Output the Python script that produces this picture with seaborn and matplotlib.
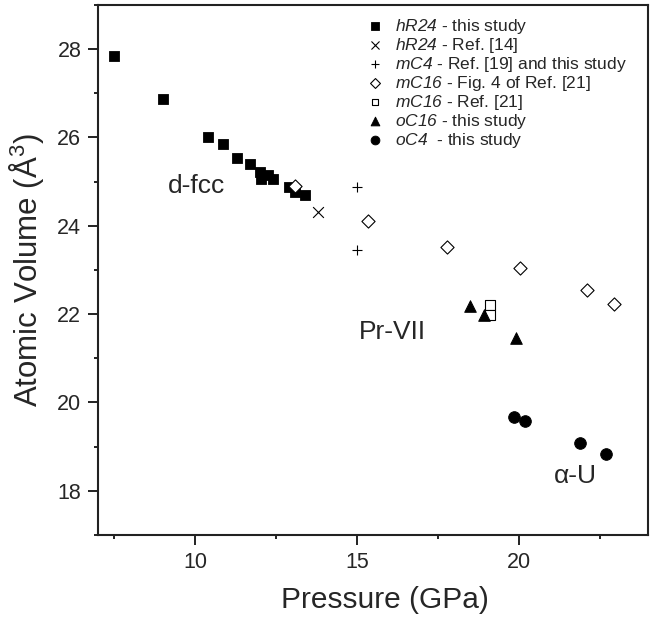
import numpy as np
import pandas as pd
import matplotlib
matplotlib.use("Agg")
import matplotlib.pyplot as plt
from matplotlib.ticker import MultipleLocator
import seaborn as sns

# hR24 - this study
hr24_p = [7.5, 9.0, 10.4, 10.85, 11.3, 11.7, 12.0, 12.05, 12.25, 12.4, 12.9, 13.1, 13.4]
hr24_v = [27.85, 26.87, 26.0, 25.86, 25.54, 25.4, 25.22, 25.07, 25.15, 25.07, 24.87, 24.77, 24.69]
# hR24 - Ref. [14]
hr24_ref_p = [13.8]
hr24_ref_v = [24.31]
# mC4 - Ref. [19] and this study
mc4_p = [15.0, 15.0]
mc4_v = [24.87, 23.45]
# mC16 - Fig. 4 of Ref. [21]
mc16_fig_p = [13.1, 15.35, 17.8, 20.05, 22.1, 22.95]
mc16_fig_v = [24.91, 24.12, 23.53, 23.05, 22.55, 22.22]
# mC16 - Ref. [21]
mc16_ref_p = [19.13, 19.13]
mc16_ref_v = [22.2, 21.98]
# oC16 - this study
oc16_p = [18.5, 18.92, 19.93]
oc16_v = [22.19, 21.99, 21.47]
# oC4 - this study
oc4_p = [19.86, 20.2, 21.9, 22.7]
oc4_v = [19.68, 19.57, 19.08, 18.84]

sns.set_style("ticks")
plt.rcParams['font.family'] = ['Liberation Sans', 'DejaVu Sans']
plt.rcParams['mathtext.fontset'] = 'custom'
plt.rcParams['mathtext.rm'] = 'Liberation Sans:italic'
plt.rcParams['mathtext.it'] = 'Liberation Sans:italic'
plt.rcParams['mathtext.sf'] = 'Liberation Sans'

fig = plt.figure(figsize=(6.64, 6.19), dpi=100)
ax = fig.add_axes([0.1476, 0.1357, 0.8284, 0.8563])

series = [
    (hr24_p, hr24_v, r'$hR24$ - this study', dict(marker='s', color='black', s=55, edgecolor='black')),
    (hr24_ref_p, hr24_ref_v, r'$hR24$ - Ref. [14]', dict(marker='x', color='black', s=60, linewidth=0.8)),
    (mc4_p, mc4_v, r'$mC4$ - Ref. [19] and this study', dict(marker='+', color='black', s=60, linewidth=0.8)),
    (mc16_fig_p, mc16_fig_v, r'$mC16$ - Fig. 4 of Ref. [21]', dict(marker='D', facecolor='white', edgecolor='black', s=45, linewidth=0.8)),
    (mc16_ref_p, mc16_ref_v, r'$mC16$ - Ref. [21]', dict(marker='s', facecolor='white', edgecolor='black', s=45, linewidth=0.8)),
    (oc16_p, oc16_v, r'$oC16$ - this study', dict(marker='^', color='black', s=70, edgecolor='black')),
    (oc4_p, oc4_v, r'$oC4$  - this study', dict(marker='o', color='black', s=70, edgecolor='black')),
]

for p, v, label, kw in series:
    df = pd.DataFrame({'p': p, 'v': v})
    sns.scatterplot(data=df, x='p', y='v', ax=ax, label=label, zorder=3, **kw)

ax.set_xlim(7, 24)
ax.set_ylim(17, 29)
ax.xaxis.set_major_locator(MultipleLocator(5))
ax.xaxis.set_minor_locator(MultipleLocator(2.5))
ax.yaxis.set_major_locator(MultipleLocator(2))
ax.yaxis.set_minor_locator(MultipleLocator(1))
ax.tick_params(which='major', length=7, width=1.4, labelsize=15.5, pad=5, color='#222222')
ax.tick_params(which='minor', length=3, width=1.4, color='#222222')
for sp in ax.spines.values():
    sp.set_linewidth(1.5)
    sp.set_color('#222222')

ax.set_xlabel('Pressure (GPa)', fontsize=21.5)
ax.set_ylabel(r'Atomic Volume (Å$^{\mathsf{3}}$)', fontsize=22.5)
ax.xaxis.set_label_coords(0.522, -0.097)
ax.yaxis.set_label_coords(-0.095, 0.5)

ax.text(10.05, 24.9, 'd-fcc', fontsize=19, ha='center', va='center')
ax.text(16.1, 21.6, 'Pr-VII', fontsize=19, ha='center', va='center')
ax.text(21.75, 18.33, 'α-U', fontsize=19, ha='center', va='center')

ax.legend(loc='upper left', bbox_to_anchor=(0.465, 0.997), frameon=False,
          fontsize=12.5, markerscale=0.75, handletextpad=0.6, labelspacing=0.0,
          borderaxespad=0.2, handlelength=1.2)

fig.savefig('out.png', dpi=100)
